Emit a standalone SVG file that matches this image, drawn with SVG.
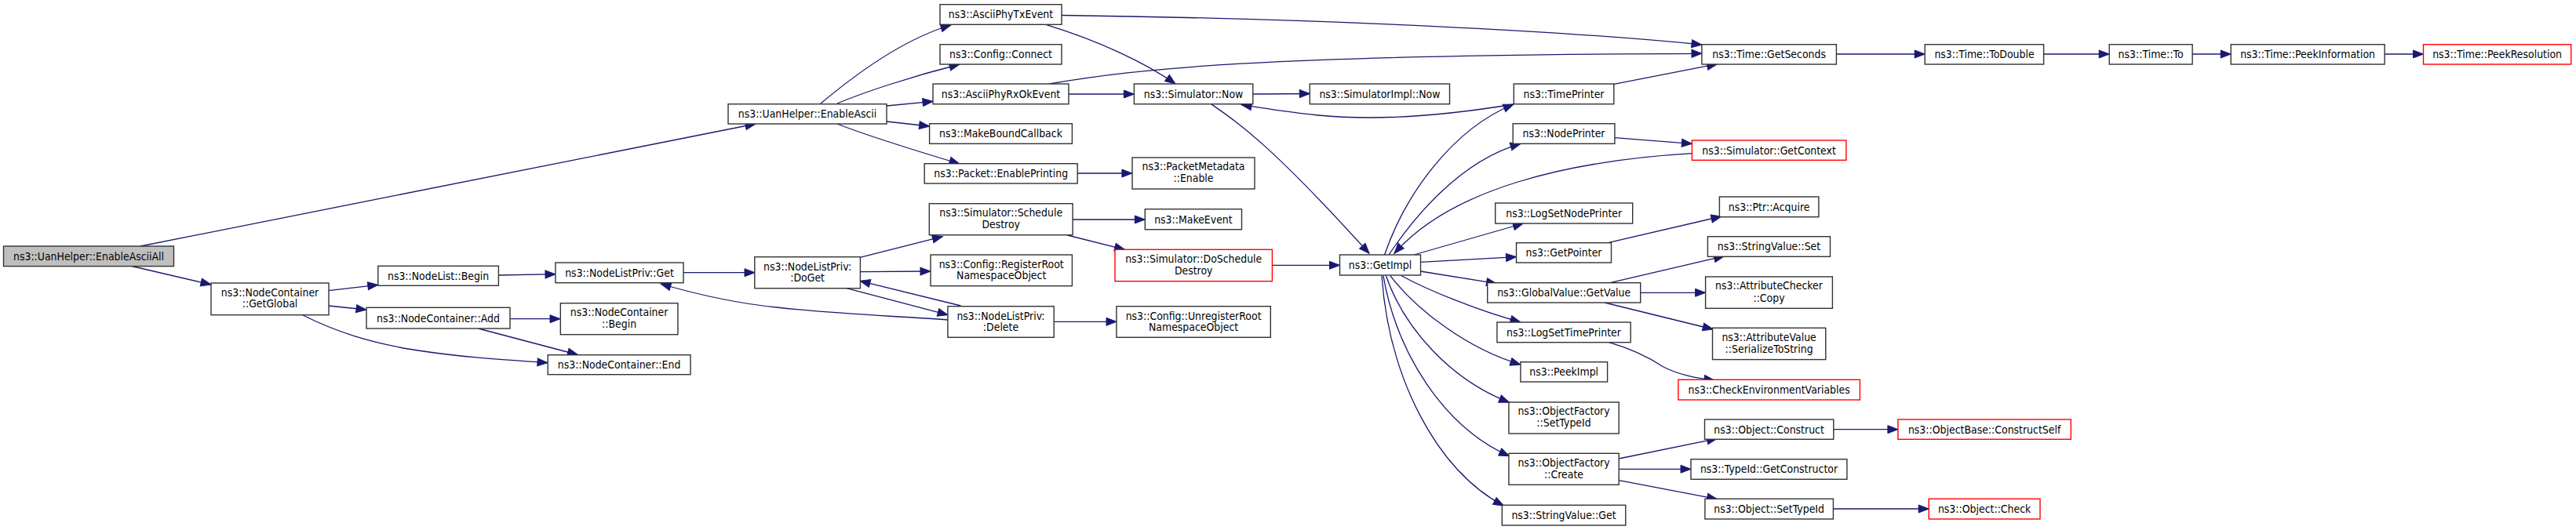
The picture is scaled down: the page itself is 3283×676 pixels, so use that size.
<svg xmlns="http://www.w3.org/2000/svg" width="3283" height="676" viewBox="0 0 3283 676">
<defs>
<style>
.n rect{fill:#fff;stroke:#333;stroke-width:1.4}
.r rect{stroke:#f00}
.g rect{fill:#bfbfbf}
text{font-family:"DejaVu Sans","Liberation Sans",sans-serif;font-size:12.5px;text-anchor:middle;fill:#000}
#edges path{fill:none;stroke:#191970;stroke-width:1.3;marker-end:url(#a)}
</style>
<marker id="a" markerWidth="14" markerHeight="11" refX="13" refY="5" orient="auto" markerUnits="userSpaceOnUse" overflow="visible"><path d="M0,0 L13,5 L0,10 Z" fill="#191970" stroke="#191970" stroke-width="1"/></marker>
</defs>
<rect width="3283" height="676" fill="#fff"/>
<g id="edges">
<path d="M179,314 L963,158"/>
<path d="M168,339.5 L269,363"/>
<path d="M418.6,370.7 L481.8,363.3"/>
<path d="M418.6,390 L467,395"/>
<path d="M386,402 C430,424 470,436 520,445 C580,455 640,459 698,462.7"/>
<path d="M635.4,351 L708,349.7"/>
<path d="M871,347.7 L962,347.7"/>
<path d="M650,406.7 L714,406.7"/>
<path d="M609.6,419 L736.4,452.5"/>
<path d="M1096,328.3 L1201.4,301.7"/>
<path d="M1096,346.7 L1186,346"/>
<path d="M1079,367.7 L1208,401.7"/>
<path d="M1224.6,390 L1096,358.3"/>
<path d="M1208,408 C1140,403 1060,400 990,392 C940,387 890,376 842,362"/>
<path d="M1367,280 L1459.3,280"/>
<path d="M1360.4,300 L1433.6,318.3"/>
<path d="M1343,410.3 L1423,410.3"/>
<path d="M1621.4,338.3 L1707.5,338.3"/>
<path d="M1046,132 C1090,95 1150,50 1212,32"/>
<path d="M1067,132 C1100,118 1160,98 1223,82"/>
<path d="M1130,135 L1189,129.3"/>
<path d="M1130,155 L1184.6,161"/>
<path d="M1067,158 C1110,175 1170,193 1223,209"/>
<path d="M1353,19.5 C1700,24 2000,40 2169,57"/>
<path d="M1333.6,31.7 C1400,52 1460,80 1498,107"/>
<path d="M1337,107 C1450,88 1600,70 2169,68.3"/>
<path d="M1362,120 L1445.4,120"/>
<path d="M1596.8,120 L1669.3,119.5"/>
<path d="M1929,133 C1850,146 1760,155 1680,147 C1640,143 1610,138 1582,133.5"/>
<path d="M1544,133 C1580,158 1620,185 1745,323.3"/>
<path d="M1764.6,325 C1790,250 1850,165 1929,133"/>
<path d="M1770,325 C1800,280 1860,205 1938,183.3"/>
<path d="M2058,175.7 L2156.4,183.3"/>
<path d="M2156.4,195.7 C2000,205 1850,240 1777,323.3"/>
<path d="M1802,325 L1941.4,285"/>
<path d="M1810.4,334.3 L1932.5,327.7"/>
<path d="M2050.4,309.3 L2193.9,276"/>
<path d="M2052,360.7 L2197.5,326.7"/>
<path d="M1810.4,346 L1907.5,361.7"/>
<path d="M1786,351.7 C1820,370 1880,395 1937.9,411"/>
<path d="M1771.8,351.7 C1805,395 1870,445 1937.9,465"/>
<path d="M1766.4,351.7 C1790,420 1850,485 1923.6,513.3"/>
<path d="M1762.9,351.7 C1780,450 1840,545 1923.6,581.7"/>
<path d="M1761,351.7 C1770,480 1830,600 1916.4,645"/>
<path d="M2090.7,373.3 L2173.6,373.3"/>
<path d="M2045,386 L2183.2,420"/>
<path d="M2050.4,436.7 C2080,445 2100,455 2120,468 C2140,478 2160,482 2185,485"/>
<path d="M2063.2,585 L2188.6,559.3"/>
<path d="M2063.2,598.3 L2155,598.3"/>
<path d="M2063.2,612.7 L2188.6,636.7"/>
<path d="M2336.8,547.7 L2418.9,547.7"/>
<path d="M2336.4,649 L2458.2,649"/>
<path d="M2056.8,107.3 L2188.6,81.7"/>
<path d="M2340.4,69 L2453.2,69"/>
<path d="M2604.6,69 L2688.2,69"/>
<path d="M2794,69 L2843.2,69"/>
<path d="M3039,69 L3088.5,69"/>
<path d="M1373.2,221 L1442.9,221"/>
</g>
<g id="n1" class="n g"><rect x="4.5" y="314" width="217" height="25.6"/><text transform="translate(113,331.5) scale(1,1.15)">ns3::UanHelper::EnableAsciiAll</text></g>
<g id="n2" class="n"><rect x="928" y="132.7" width="202" height="25.3"/><text transform="translate(1029,150) scale(1,1.15)">ns3::UanHelper::EnableAscii</text></g>
<g id="n3" class="n"><rect x="269" y="361" width="150" height="40.7"/><text transform="translate(344,377.7) scale(1,1.15)">ns3::NodeContainer</text><text transform="translate(344,391.7) scale(1,1.15)">::GetGlobal</text></g>
<g id="n4" class="n"><rect x="1198" y="5.7" width="155" height="25.6"/><text transform="translate(1275.5,23.3) scale(1,1.15)">ns3::AsciiPhyTxEvent</text></g>
<g id="n5" class="n"><rect x="1198" y="56.7" width="155" height="25.3"/><text transform="translate(1275.5,74.2) scale(1,1.15)">ns3::Config::Connect</text></g>
<g id="n6" class="n"><rect x="1189" y="107" width="173" height="25.7"/><text transform="translate(1275.5,124.7) scale(1,1.15)">ns3::AsciiPhyRxOkEvent</text></g>
<g id="n7" class="n"><rect x="1184.6" y="157.7" width="181.8" height="25.6"/><text transform="translate(1275.5,175.4) scale(1,1.15)">ns3::MakeBoundCallback</text></g>
<g id="n8" class="n"><rect x="1178.2" y="208.7" width="195" height="25.3"/><text transform="translate(1275.7,226.3) scale(1,1.15)">ns3::Packet::EnablePrinting</text></g>
<g id="n9" class="n"><rect x="1443" y="201" width="156" height="40"/><text transform="translate(1521,217.3) scale(1,1.15)">ns3::PacketMetadata</text><text transform="translate(1521,232.3) scale(1,1.15)">::Enable</text></g>
<g id="n10" class="n"><rect x="1445.4" y="107" width="151.4" height="25.7"/><text transform="translate(1521,124.7) scale(1,1.15)">ns3::Simulator::Now</text></g>
<g id="n11" class="n"><rect x="1669.3" y="107" width="178.2" height="25.7"/><text transform="translate(1758.4,124.7) scale(1,1.15)">ns3::SimulatorImpl::Now</text></g>
<g id="n12" class="n"><rect x="1929.3" y="107" width="127.5" height="25.7"/><text transform="translate(1993,124.7) scale(1,1.15)">ns3::TimePrinter</text></g>
<g id="n13" class="n"><rect x="1928.2" y="157.7" width="129.7" height="25.6"/><text transform="translate(1993,175.4) scale(1,1.15)">ns3::NodePrinter</text></g>
<g id="n14" class="n r"><rect x="2156.4" y="179" width="196.5" height="25.3"/><text transform="translate(2254.6,196.6) scale(1,1.15)">ns3::Simulator::GetContext</text></g>
<g id="n15" class="n"><rect x="1905.7" y="259" width="175" height="26"/><text transform="translate(1993.2,276.9) scale(1,1.15)">ns3::LogSetNodePrinter</text></g>
<g id="n16" class="n"><rect x="1932.5" y="309.7" width="121" height="25.3"/><text transform="translate(1993,327.3) scale(1,1.15)">ns3::GetPointer</text></g>
<g id="n17" class="n"><rect x="1707.5" y="325" width="103" height="26"/><text transform="translate(1759,342.9) scale(1,1.15)">ns3::GetImpl</text></g>
<g id="n18" class="n"><rect x="1895.7" y="360.7" width="195" height="25.3"/><text transform="translate(1993.2,378.3) scale(1,1.15)">ns3::GlobalValue::GetValue</text></g>
<g id="n19" class="n"><rect x="1907.9" y="411" width="170.3" height="25.7"/><text transform="translate(1993,428.7) scale(1,1.15)">ns3::LogSetTimePrinter</text></g>
<g id="n20" class="n"><rect x="1937.9" y="461.7" width="110.7" height="25.3"/><text transform="translate(1993.2,479.3) scale(1,1.15)">ns3::PeekImpl</text></g>
<g id="n21" class="n"><rect x="1922.9" y="513" width="140.3" height="40"/><text transform="translate(1993,529.3) scale(1,1.15)">ns3::ObjectFactory</text><text transform="translate(1993,544.3) scale(1,1.15)">::SetTypeId</text></g>
<g id="n22" class="n"><rect x="1922.9" y="578.3" width="140.3" height="40"/><text transform="translate(1993,594.6) scale(1,1.15)">ns3::ObjectFactory</text><text transform="translate(1993,609.6) scale(1,1.15)">::Create</text></g>
<g id="n23" class="n"><rect x="1914.3" y="644.3" width="157.5" height="25.7"/><text transform="translate(1993,662) scale(1,1.15)">ns3::StringValue::Get</text></g>
<g id="n24" class="n"><rect x="2168.9" y="56.7" width="171.5" height="25.3"/><text transform="translate(2254.6,74.2) scale(1,1.15)">ns3::Time::GetSeconds</text></g>
<g id="n25" class="n"><rect x="2453.2" y="56.7" width="151.4" height="25.3"/><text transform="translate(2529,74.2) scale(1,1.15)">ns3::Time::ToDouble</text></g>
<g id="n26" class="n"><rect x="2688.2" y="56.7" width="105.9" height="25.3"/><text transform="translate(2741.1,74.2) scale(1,1.15)">ns3::Time::To</text></g>
<g id="n27" class="n"><rect x="2843.2" y="56.7" width="195.9" height="25.3"/><text transform="translate(2941.1,74.2) scale(1,1.15)">ns3::Time::PeekInformation</text></g>
<g id="n28" class="n r"><rect x="3088.5" y="56.7" width="188.2" height="25.3"/><text transform="translate(3182.6,74.2) scale(1,1.15)">ns3::Time::PeekResolution</text></g>
<g id="n29" class="n"><rect x="2191.4" y="251" width="126.5" height="25.7"/><text transform="translate(2254.6,268.7) scale(1,1.15)">ns3::Ptr::Acquire</text></g>
<g id="n30" class="n"><rect x="2176.4" y="301.7" width="156.1" height="25.6"/><text transform="translate(2254.5,319.4) scale(1,1.15)">ns3::StringValue::Set</text></g>
<g id="n31" class="n"><rect x="2173.6" y="353" width="161.8" height="40.3"/><text transform="translate(2254.5,369.3) scale(1,1.15)">ns3::AttributeChecker</text><text transform="translate(2254.5,384.5) scale(1,1.15)">::Copy</text></g>
<g id="n32" class="n"><rect x="2182.5" y="418.3" width="144.3" height="40.3"/><text transform="translate(2254.6,434.8) scale(1,1.15)">ns3::AttributeValue</text><text transform="translate(2254.6,449.5) scale(1,1.15)">::SerializeToString</text></g>
<g id="n33" class="n r"><rect x="2138.9" y="484.3" width="231.5" height="25.7"/><text transform="translate(2254.6,502) scale(1,1.15)">ns3::CheckEnvironmentVariables</text></g>
<g id="n34" class="n"><rect x="2172.5" y="535" width="164.3" height="25.3"/><text transform="translate(2254.6,552.6) scale(1,1.15)">ns3::Object::Construct</text></g>
<g id="n35" class="n r"><rect x="2418.9" y="535" width="220.4" height="25.3"/><text transform="translate(2529.1,552.6) scale(1,1.15)">ns3::ObjectBase::ConstructSelf</text></g>
<g id="n36" class="n"><rect x="2155" y="585.7" width="198.9" height="25.6"/><text transform="translate(2254.5,603.4) scale(1,1.15)">ns3::TypeId::GetConstructor</text></g>
<g id="n37" class="n"><rect x="2172.9" y="636.3" width="163.5" height="25.7"/><text transform="translate(2254.6,654) scale(1,1.15)">ns3::Object::SetTypeId</text></g>
<g id="n38" class="n r"><rect x="2458.2" y="636.3" width="141.8" height="25.7"/><text transform="translate(2529.1,654) scale(1,1.15)">ns3::Object::Check</text></g>
<g id="n39" class="n"><rect x="481.8" y="339.3" width="153.6" height="25"/><text transform="translate(558.6,356.7) scale(1,1.15)">ns3::NodeList::Begin</text></g>
<g id="n40" class="n"><rect x="467" y="392.3" width="183" height="26.7"/><text transform="translate(558.5,410.5) scale(1,1.15)">ns3::NodeContainer::Add</text></g>
<g id="n41" class="n"><rect x="707.9" y="335" width="163.1" height="25.7"/><text transform="translate(789.5,352.7) scale(1,1.15)">ns3::NodeListPriv::Get</text></g>
<g id="n42" class="n"><rect x="714.3" y="386.7" width="149.6" height="40"/><text transform="translate(789.1,403) scale(1,1.15)">ns3::NodeContainer</text><text transform="translate(789.1,418) scale(1,1.15)">::Begin</text></g>
<g id="n43" class="n"><rect x="698.2" y="452.7" width="181.8" height="25"/><text transform="translate(789.1,470) scale(1,1.15)">ns3::NodeContainer::End</text></g>
<g id="n44" class="n"><rect x="961.8" y="327.7" width="134.6" height="40"/><text transform="translate(1029.1,345) scale(1,1.15)">ns3::NodeListPriv:</text><text transform="translate(1029.1,359.3) scale(1,1.15)">:DoGet</text></g>
<g id="n45" class="n"><rect x="1184.3" y="259.7" width="182.8" height="40"/><text transform="translate(1275.7,276) scale(1,1.15)">ns3::Simulator::Schedule</text><text transform="translate(1275.7,291) scale(1,1.15)">Destroy</text></g>
<g id="n46" class="n"><rect x="1459.3" y="266.7" width="123.2" height="26"/><text transform="translate(1520.9,284.6) scale(1,1.15)">ns3::MakeEvent</text></g>
<g id="n47" class="n r"><rect x="1421" y="318.3" width="200.4" height="40.4"/><text transform="translate(1521.2,335) scale(1,1.15)">ns3::Simulator::DoSchedule</text><text transform="translate(1521.2,349.7) scale(1,1.15)">Destroy</text></g>
<g id="n48" class="n"><rect x="1186" y="325" width="180.4" height="39.7"/><text transform="translate(1276.2,341.7) scale(1,1.15)">ns3::Config::RegisterRoot</text><text transform="translate(1276.2,356.3) scale(1,1.15)">NamespaceObject</text></g>
<g id="n49" class="n"><rect x="1207.9" y="390.7" width="135.3" height="39.6"/><text transform="translate(1275.5,407.7) scale(1,1.15)">ns3::NodeListPriv:</text><text transform="translate(1275.5,421.7) scale(1,1.15)">:Delete</text></g>
<g id="n50" class="n"><rect x="1422.9" y="390.7" width="196.4" height="39.6"/><text transform="translate(1521.1,407.7) scale(1,1.15)">ns3::Config::UnregisterRoot</text><text transform="translate(1521.1,421.7) scale(1,1.15)">NamespaceObject</text></g>
</svg>
